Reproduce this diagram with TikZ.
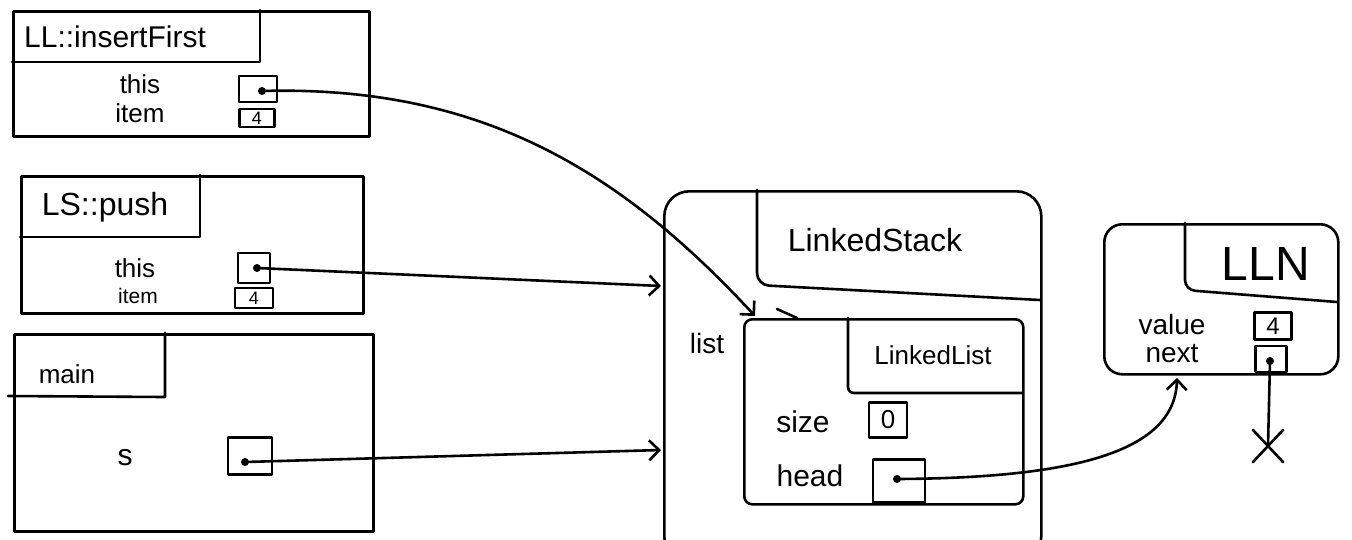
\documentclass[tikz,border=0pt]{standalone}
\usepackage{fontspec}
\setmainfont{Liberation Sans}
\usetikzlibrary{arrows.meta,shapes.misc}
\begin{document}
\begin{tikzpicture}[x=1pt,y=-1pt,line width=2.6pt,line join=round,line cap=round,
  framebox/.style={draw,anchor=north west,inner sep=0pt},
  cell/.style={draw,inner sep=0pt,font=\fontsize{18}{18}\selectfont},
  lbl/.style={inner sep=0pt,font=\fontsize{26}{26}\selectfont},
  head/.style={inner sep=0pt,font=\fontsize{30}{30}\selectfont},
  ptr/.style={-{Straight Barb[length=10pt,width=20pt]}},
  dotp/.style={fill=black}]
\useasboundingbox (0,0) rectangle (1352,539);
\clip (0,0) rectangle (1352,539);

% ---- stack frame: LL::insertFirst
\node[framebox,minimum width=356pt,minimum height=125pt] (f1) at (12,10) {};
\draw (260,10) -- (260,62) -- (12,62);
\node[head] (f1name) at (115,37) {LL::insertFirst};
\node[lbl] (f1this) at (140,84) {this};
\node[lbl] (f1item) at (140,113) {item};
\node[cell,minimum width=38pt,minimum height=26pt] (f1p) at (258,89) {};
\node[cell,minimum width=35pt,minimum height=18pt] (f1v) at (257,118) {4};
\coordinate (d1) at (262,91);
\fill[dotp] (d1) circle (4pt);

% ---- stack frame: LS::push
\node[framebox,minimum width=342pt,minimum height=137pt] (f2) at (20,175) {};
\draw (200,175) -- (200,237) -- (20,237);
\node[head,font=\fontsize{32}{32}\selectfont] (f2name) at (105,207) {LS::push};
\node[lbl] (f2this) at (135,268) {this};
\node[lbl,font=\fontsize{21}{21}\selectfont] (f2item) at (138,296) {item};
\node[cell,minimum width=32pt,minimum height=30pt] (f2p) at (254,268) {};
\node[cell,minimum width=38pt,minimum height=20pt] (f2v) at (254,298) {4};
\coordinate (d2) at (257,268);
\fill[dotp] (d2) circle (4pt);

% ---- stack frame: main
\node[framebox,minimum width=359pt,minimum height=197pt] (f3) at (13,333) {};
\draw (165,333) -- (165,397) -- (8,396);
\node[lbl,font=\fontsize{26}{26}\selectfont] (f3name) at (67,374) {main};
\node[lbl,font=\fontsize{30}{30}\selectfont] (f3s) at (125,458) {s};
\node[cell,minimum width=44pt,minimum height=37pt] (f3p) at (250,456) {};
\coordinate (d3) at (245,462);
\fill[dotp] (d3) circle (4pt);

% ---- LinkedStack object
\node[framebox,rounded corners=25pt,minimum width=377pt,minimum height=370pt] (ls) at (663,190) {};
\draw[rounded corners=12pt] (757,190) -- (757,285) -- (1040,300);
\node[head,font=\fontsize{32}{32}\selectfont] (lsname) at (875,240) {LinkedStack};
\node[lbl,font=\fontsize{28}{28}\selectfont] (lslist) at (707,343) {list};
\coordinate (lsin1) at (661,286);
\coordinate (lsin2) at (661,450);

% ---- LinkedList object
\node[framebox,rounded corners=8pt,minimum width=279pt,minimum height=185pt] (ll) at (743,318) {};
\draw[rounded corners=6pt] (848,318) -- (848,393) -- (1022,393);
\node[head,font=\fontsize{26}{26}\selectfont] (llname) at (933,355) {LinkedList};
\node[lbl,font=\fontsize{30}{30}\selectfont] (llsize) at (803,422) {size};
\node[lbl,font=\fontsize{30}{30}\selectfont] (llhead) at (810,476) {head};
\node[cell,minimum width=38pt,minimum height=35pt,font=\fontsize{26}{26}\selectfont] (llsz) at (888,420) {0};
\node[cell,minimum width=52pt,minimum height=43pt] (llhd) at (899,481) {};
\coordinate (d4) at (897,479);
\fill[dotp] (d4) circle (4pt);
\coordinate (lltip) at (755,316);
\draw (777,309) -- (797,318);

% ---- LLN object
\node[framebox,rounded corners=18pt,minimum width=234pt,minimum height=150pt] (lln) at (1103,223) {};
\draw[rounded corners=10pt] (1185,223) -- (1185,290) -- (1337,302);
\node[head,font=\fontsize{48}{48}\selectfont] (llnname) at (1266,264) {LLN};
\node[lbl,font=\fontsize{28}{28}\selectfont] (llnvalue) at (1172,324) {value};
\node[lbl,font=\fontsize{28}{28}\selectfont] (llnnext) at (1172,354) {next};
\node[cell,minimum width=37pt,minimum height=27pt,font=\fontsize{24}{24}\selectfont] (llnv) at (1273,326) {4};
\node[cell,minimum width=31pt,minimum height=26pt] (llnn) at (1271,359) {};
\coordinate (d5) at (1270,361);
\fill[dotp] (d5) circle (4pt);
\coordinate (llntip) at (1177,378);
\node[cross out,draw,minimum width=28pt,minimum height=30pt,inner sep=0pt] (nullx) at (1268,446) {};

% ---- connectors
\draw[ptr] (d1) .. controls (480,85) and (620,170) .. (lltip);
\draw[ptr] (d2) -- (lsin1);
\draw[ptr] (d3) -- (lsin2);
\draw[ptr] (d4) .. controls (1080,478) and (1175,450) .. (llntip);
\draw (d5) -- (nullx.center);
\end{tikzpicture}
\end{document}
